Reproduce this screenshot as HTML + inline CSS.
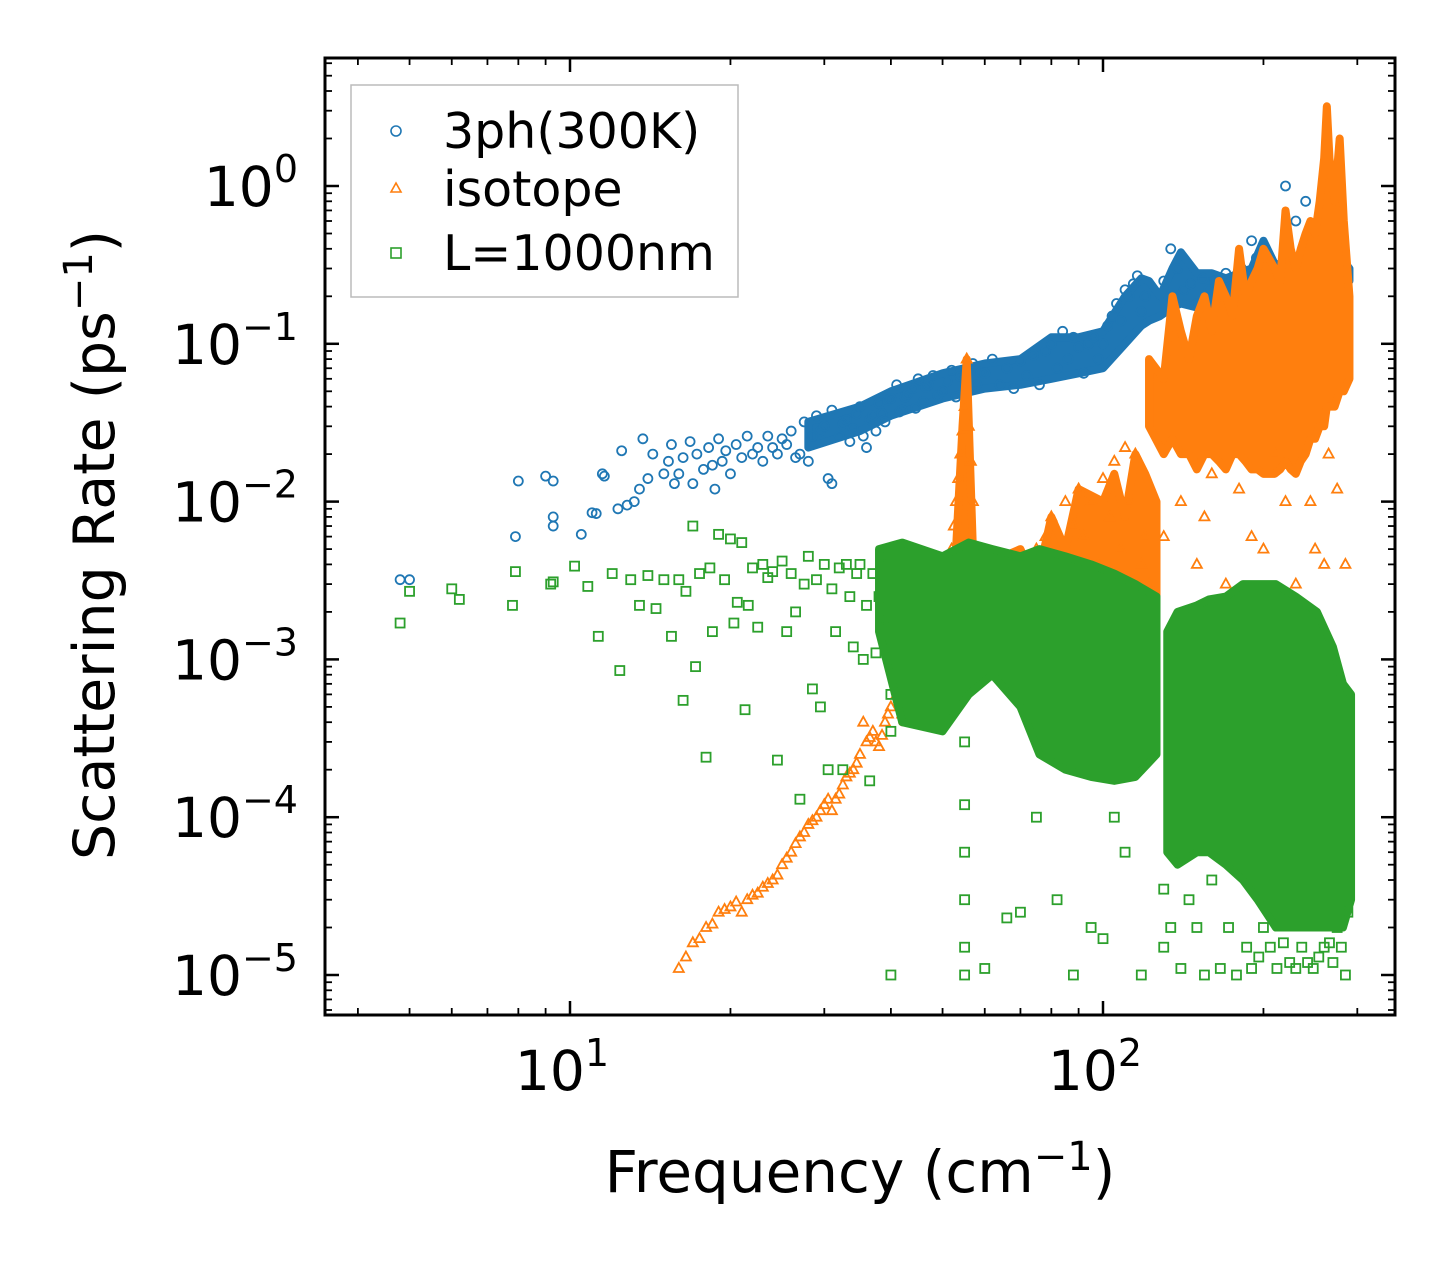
<!DOCTYPE html>
<html><head><meta charset="utf-8"><style>
html,body{margin:0;padding:0;background:#fff}
svg{display:block}
text{font-family:"DejaVu Sans","Liberation Sans",sans-serif;fill:#000}
</style></head><body>
<svg id="chart" width="1455" height="1265" viewBox="0 0 1455 1265" xmlns="http://www.w3.org/2000/svg">
<g id="marks"></g>
<g id="axes"></g>
<text x="860" y="1192" font-size="58" text-anchor="middle">Frequency (cm<tspan dy="-22" font-size="40">−1</tspan><tspan dy="22">)</tspan></text>
<text transform="translate(114,545) rotate(-90)" font-size="57" text-anchor="middle">Scattering Rate (ps<tspan dy="-22" font-size="40">−1</tspan><tspan dy="22">)</tspan></text>
<g>
<rect x="351" y="85" width="387" height="212" fill="#fff" stroke="#bbb" stroke-width="1.5"/>
<circle cx="396" cy="131" r="5" fill="none" stroke="#1f77b4" stroke-width="1.6"/>
<text x="443" y="148" font-size="49">3ph(300K)</text>
<polygon points="396,183 401,192 391,192" fill="none" stroke="#ff7f0e" stroke-width="1.6"/>
<text x="443" y="206" font-size="49">isotope</text>
<rect x="391" y="248" width="10" height="10" fill="none" stroke="#2ca02c" stroke-width="1.6"/>
<text x="443" y="270" font-size="49">L=1000nm</text>
</g>
</svg>
<script>
const xTickValues=[10,100];
const xTickLabels=["1","2"];
const yTickValues=[1,0.1,0.01,0.001,0.0001,0.00001];
const yTickLabels=["0","−1","−2","−3","−4","−5"];
// dense-cloud envelopes
const blueBandFreq=[28,35,40,50,60,70,80,90,100,110,118,122,128,135,140,150,160,170,180,190,200,210,220,230,240,250,258,262,270,280,290];
const blueBandLow=[2.2e-2,2.8e-2,3.5e-2,4.5e-2,5.2e-2,5.5e-2,6e-2,6.5e-2,7e-2,1e-1,1.3e-1,1.4e-1,1.5e-1,1.7e-1,1.8e-1,1.7e-1,1.7e-1,1.6e-1,1.5e-1,1.6e-1,1.8e-1,1.8e-1,1.8e-1,1.8e-1,1.8e-1,1.9e-1,2.2e-1,2.2e-1,2.5e-1,2.5e-1,2.5e-1];
const blueBandHigh=[3.2e-2,4e-2,5e-2,6.5e-2,7.5e-2,8e-2,1.1e-1,1.1e-1,1.2e-1,2e-1,2.6e-1,2.5e-1,2e-1,3e-1,3.8e-1,2.8e-1,2.8e-1,2.6e-1,2.8e-1,3e-1,4.5e-1,3.2e-1,3.2e-1,3.2e-1,3e-1,4e-1,1e0,6e-1,4e-1,3.5e-1,3e-1];
const orangeBandFreq=[122,130,135,140,145,150,155,160,165,170,175,180,185,190,195,200,210,215,220,225,230,235,240,245,250,255,260,263,266,272,278,283,290];
const orangeBandLow=[3e-2,2e-2,2.5e-2,2e-2,2e-2,1.6e-2,2e-2,2e-2,1.8e-2,1.6e-2,2e-2,2e-2,1.8e-2,1.6e-2,1.6e-2,1.5e-2,1.5e-2,1.6e-2,1.8e-2,1.6e-2,1.5e-2,1.8e-2,2e-2,2.5e-2,2.5e-2,3e-2,3e-2,4e-2,4e-2,4e-2,5e-2,5e-2,6e-2];
const orangeBandHigh=[8e-2,6e-2,2e-1,1.2e-1,8e-2,1.5e-1,2e-1,1.2e-1,2.5e-1,2e-1,1.5e-1,4e-1,2e-1,2.5e-1,3e-1,4e-1,3e-1,2.5e-1,7e-1,4e-1,3e-1,4e-1,5e-1,6e-1,5e-1,8e-1,1.5e0,3.2e0,1.5e0,8e-1,2e0,6e-1,2e-1];
const orange2BandFreq=[42,46,50,53,54.5,55.5,57,60,70,75,80,85,90,100,105,110,115,120,126];
const orange2BandLow=[4e-4,6e-4,1e-3,1.5e-3,1.5e-3,1.5e-3,1.5e-3,1.5e-3,1.5e-3,1.8e-3,2e-3,2e-3,2e-3,2e-3,2e-3,2e-3,2e-3,2e-3,2e-3];
const orange2BandHigh=[1e-3,2e-3,4e-3,5e-3,3e-2,8e-2,5e-3,4e-3,5e-3,3e-3,8e-3,5e-3,1.2e-2,1e-2,1.5e-2,8e-3,2e-2,1.5e-2,1e-2];
const green1BandFreq=[38,42,50,56,62,70,76,85,95,105,115,126];
const green1BandLow=[1.5e-3,4e-4,3.5e-4,6e-4,8e-4,5e-4,2.5e-4,2e-4,1.8e-4,1.7e-4,1.8e-4,2.5e-4];
const green1BandHigh=[5e-3,5.5e-3,4.5e-3,5.5e-3,5e-3,4.5e-3,5e-3,4.5e-3,4e-3,3.5e-3,3e-3,2.5e-3];
const green2BandFreq=[132,138,150,158,170,183,195,211,230,252,270,282,292];
const green2BandLow=[6e-5,5e-5,6e-5,6e-5,5e-5,4e-5,3e-5,2e-5,2e-5,2e-5,2e-5,2e-5,3e-5];
const green2BandHigh=[1.5e-3,2e-3,2.2e-3,2.4e-3,2.5e-3,3e-3,3e-3,3e-3,2.5e-3,2e-3,1.2e-3,7e-4,6e-4];
const threePhFreq=[4.8,5.0,7.9,8.0,9.0,9.3,9.3,9.3,10.5,11,11.2,11.5,11.6,12.3,12.5,12.8,13.2,13.5,13.7,14,14.3,15,15.3,15.5,15.7,16,16.3,16.8,17,17.3,17.8,18.2,18.5,18.7,19,19.3,19.6,20,20.5,21,21.5,22,22.5,23,23.5,24,24.5,25,25.5,26,26.5,27,27.5,28,28.5,29,29.5,30,30.5,31,31,32,32.5,33,33.5,34,34.5,35,35.5,36,36.5,37,37.5,38,38.5,39,39.5,40,41,41.5,42,42.5,43,44,44.5,45,46,46.5,47,48,49,50,51,52,53,54,55,56,57,58,59,60,62,64,66,68,70,72,74,76,78,80,82,84,86,88,90,92,94,96,98,100,102,104,106,108,110,112,114,116,118,120,130,134,138,142,146,150,154,158,162,166,170,174,178,182,186,190,194,198,202,206,210,220,230,240,248,260,262,266,270,276,282,288];
const threePhRate=[3.2e-3,3.2e-3,6e-3,1.35e-2,1.45e-2,1.35e-2,7e-3,8e-3,6.2e-3,8.5e-3,8.4e-3,1.5e-2,1.45e-2,9e-3,2.1e-2,9.5e-3,1e-2,1.2e-2,2.5e-2,1.4e-2,2e-2,1.5e-2,1.8e-2,2.3e-2,1.3e-2,1.5e-2,1.9e-2,2.4e-2,1.3e-2,2e-2,1.6e-2,2.2e-2,1.7e-2,1.2e-2,2.5e-2,1.8e-2,2.1e-2,1.5e-2,2.3e-2,1.9e-2,2.6e-2,2e-2,2.2e-2,1.8e-2,2.6e-2,2.2e-2,2e-2,2.5e-2,2.3e-2,2.8e-2,1.9e-2,2e-2,3.2e-2,1.8e-2,2.6e-2,3.5e-2,2.8e-2,3e-2,1.4e-2,1.3e-2,3.8e-2,2.6e-2,3.1e-2,3.3e-2,2.4e-2,2.9e-2,3.6e-2,4e-2,2.6e-2,2.2e-2,3.3e-2,3.5e-2,2.8e-2,4.2e-2,3.6e-2,3.2e-2,4.4e-2,4.5e-2,5.5e-2,3.7e-2,3.8e-2,4.6e-2,4.8e-2,5.2e-2,3.9e-2,6e-2,4.3e-2,5.3e-2,5.5e-2,6.3e-2,4.7e-2,5e-2,5.8e-2,6.8e-2,4.6e-2,6.2e-2,6e-2,5.2e-2,7.5e-2,5.5e-2,6.6e-2,6.5e-2,8e-2,5.5e-2,7e-2,5.2e-2,7.8e-2,6.3e-2,8.5e-2,5.5e-2,9e-2,1e-1,7e-2,1.2e-1,8e-2,1.1e-1,9.5e-2,6.5e-2,1e-1,1.1e-1,8e-2,1e-1,1.3e-1,1.5e-1,1.8e-1,1.4e-1,2.2e-1,2e-1,2.4e-1,2.7e-1,1.6e-1,2e-1,2.5e-1,4e-1,3e-1,2.2e-1,2.4e-1,1.8e-1,2.6e-1,2.2e-1,2.5e-1,1.5e-1,2.8e-1,2.3e-1,1.7e-1,3e-1,2.6e-1,4.5e-1,3.5e-1,2.2e-1,2.5e-1,3e-1,2.2e-1,1e0,6e-1,8e-1,3.5e-1,3e-1,2.8e-1,3.2e-1,3.3e-1];
const isoFreq=[16,16.5,17,17.5,18,18.5,19,19.5,20,20.5,21,21.5,22,22.5,23,23.5,24,24.5,25,25.5,26,26.5,27,27.5,28,28.5,29,29.5,30,30.5,31,31.5,32,32.5,33,33.5,34,34.5,35,35.5,36,36.5,37,37.5,38,38.5,39,39.5,40,41,42,43,44,45,46,47,48,49,50,50.5,51,51.5,52,52.5,53,53.5,54,54.5,55,55.5,56,56.5,57,58,60,62,64,66,68,70,72,74,75,78,80,82,85,88,90,92,95,98,100,103,105,108,110,112,115,118,120,122,130,150,170,200,230,260,140,160,180,210,245,265,155,190,220,250,285,275];
const isoRate=[1.1e-5,1.3e-5,1.6e-5,1.7e-5,2e-5,2.1e-5,2.5e-5,2.6e-5,2.7e-5,2.9e-5,2.5e-5,3e-5,3.2e-5,3.3e-5,3.6e-5,3.8e-5,4e-5,4.3e-5,5e-5,5.5e-5,6e-5,6.8e-5,7.5e-5,8e-5,9e-5,9.5e-5,1e-4,1.1e-4,1.2e-4,1.3e-4,1.1e-4,1.3e-4,1.4e-4,1.6e-4,1.8e-4,1.9e-4,2e-4,2.2e-4,2.5e-4,4e-4,3e-4,3.2e-4,3.5e-4,3e-4,2.8e-4,3.3e-4,4e-4,4.5e-4,5e-4,6e-4,4.5e-4,7e-4,8e-4,6e-4,1e-3,1.2e-3,9e-4,1.5e-3,2e-3,2.5e-3,3e-3,4e-3,5e-3,7e-3,1e-2,1.4e-2,2e-2,2.8e-2,4e-2,8e-2,3e-2,1.8e-2,1e-2,5e-3,3e-3,2e-3,1.5e-3,2.5e-3,3e-3,4e-3,2e-3,3.5e-3,5e-3,6e-3,8e-3,5e-3,1e-2,7e-3,1.2e-2,6e-3,1e-2,4e-3,1.4e-2,8e-3,1.8e-2,5e-3,2.2e-2,1e-2,2e-2,4e-3,6e-3,3e-3,6e-3,4e-3,3e-3,5e-3,3e-3,4e-3,1e-2,1.5e-2,1.2e-2,2e-2,1e-2,2e-2,8e-3,6e-3,1e-2,5e-3,4e-3,1.2e-2];
const greenFreq=[4.8,5.0,6.0,6.2,7.8,7.9,9.2,9.3,10.2,10.8,11.3,12,12.4,13,13.5,14,14.5,15,15.5,16,16.3,16.5,17,17.2,17.5,18,18.3,18.5,19,19.5,20,20.3,20.6,21,21.3,21.6,22,22.5,23,23.5,24,24.5,25,25.5,26,26.5,27,27.5,28,28.5,29,29.5,30,30.5,31,31.5,32,32.5,33,33.5,34,34.5,35,35.5,36,36.5,37,37.5,38,38.5,39,39.5,40,40,40,55,55,55,55,55,55,60,66,70,75,82,88,95,100,105,110,118,130,130,134,140,145,150,155,160,166,172,178,186,190,196,200,206,212,218,224,230,236,242,248,254,260,266,270,275,280,285,288];
const greenRate=[1.7e-3,2.7e-3,2.8e-3,2.4e-3,2.2e-3,3.6e-3,3e-3,3.1e-3,3.9e-3,2.9e-3,1.4e-3,3.5e-3,8.5e-4,3.2e-3,2.2e-3,3.4e-3,2.1e-3,3.2e-3,1.4e-3,3.2e-3,5.5e-4,2.7e-3,7e-3,9e-4,3.5e-3,2.4e-4,3.8e-3,1.5e-3,6.2e-3,3.2e-3,5.8e-3,1.7e-3,2.3e-3,5.5e-3,4.8e-4,2.2e-3,3.8e-3,1.6e-3,4e-3,3.3e-3,3.6e-3,2.3e-4,4.2e-3,1.5e-3,3.5e-3,2e-3,1.3e-4,3e-3,4.5e-3,6.5e-4,3.2e-3,5e-4,4e-3,2e-4,2.8e-3,1.5e-3,3.8e-3,2e-4,4e-3,2.5e-3,1.2e-3,3.5e-3,4e-3,1e-3,2.2e-3,1.7e-4,3.5e-3,1.1e-3,2.5e-3,4.5e-3,1.8e-3,1.2e-3,6e-4,3.5e-4,1e-5,1.2e-4,6e-5,3e-5,1.5e-5,1e-5,3e-4,1.1e-5,2.3e-5,2.5e-5,1e-4,3e-5,1e-5,2e-5,1.7e-5,1e-4,6e-5,1e-5,3.5e-5,1.5e-5,2e-5,1.1e-5,3e-5,2e-5,1e-5,4e-5,1.1e-5,2e-5,1e-5,1.5e-5,1.1e-5,1.3e-5,2e-5,1.5e-5,1.1e-5,1.6e-5,1.2e-5,1.1e-5,1.5e-5,1.2e-5,1.1e-5,1.3e-5,1.5e-5,1.6e-5,1.2e-5,2e-5,1.5e-5,1e-5,2.5e-5];
const X0=570, XD=533, Y0=186, YD=157.8;
function sx(v){return X0+(Math.log10(v)-1)*XD;}
function sy(v){return Y0-Math.log10(v)*YD;}
const NS="http://www.w3.org/2000/svg";
const marks=document.getElementById('marks');
const axes=document.getElementById('axes');
function mk(tag,attrs,parent){const e=document.createElementNS(NS,tag);for(const k in attrs)e.setAttribute(k,attrs[k]);parent.appendChild(e);return e;}
function band(fr,lo,hi,color,parent,name){
  const pts=[];fr.forEach((f,i)=>pts.push(sx(f)+','+sy(hi[i])));
  for(let i=fr.length-1;i>=0;i--)pts.push(sx(fr[i])+','+sy(lo[i]));
  const p=mk('polygon',{points:pts.join(' '),fill:color,stroke:color,'stroke-width':8,'stroke-linejoin':'round'},parent);
  
  
}
const gB=mk('g',{},marks);


const gO=mk('g',{},marks);


const gG=mk('g',{},marks);


band(blueBandFreq,blueBandLow,blueBandHigh,'#1f77b4',gB,'band-3ph');
band(orangeBandFreq,orangeBandLow,orangeBandHigh,'#ff7f0e',gO,'band-isotope');
band(orange2BandFreq,orange2BandLow,orange2BandHigh,'#ff7f0e',gO,'band-isotope-mid');
band(green1BandFreq,green1BandLow,green1BandHigh,'#2ca02c',gG,'band-l1000nm-low');
band(green2BandFreq,green2BandLow,green2BandHigh,'#2ca02c',gG,'band-l1000nm-high');
threePhFreq.forEach((f,i)=>{if(threePhRate[i]===undefined)return;const c=mk('circle',{cx:sx(f),cy:sy(threePhRate[i]),r:4.5,fill:'none',stroke:'#1f77b4','stroke-width':1.8},gB);

});
isoFreq.forEach((f,i)=>{if(isoRate[i]===undefined)return;const x=sx(f),y=sy(isoRate[i]);const p=mk('polygon',{points:`${x},${y-5.5} ${x+5},${y+3.5} ${x-5},${y+3.5}`,fill:'none',stroke:'#ff7f0e','stroke-width':1.8},gO);

});
greenFreq.forEach((f,i)=>{if(greenRate[i]===undefined)return;const x=sx(f),y=sy(greenRate[i]);const r=mk('rect',{x:x-4.5,y:y-4.5,width:9,height:9,fill:'none',stroke:'#2ca02c','stroke-width':1.8},gG);

});
const L=325,R=1395,T=58,B=1015;
const fr=mk('rect',{x:L,y:T,width:R-L,height:B-T,fill:'none',stroke:'#000','stroke-width':3},axes);


for(let d=0;d<=2;d++){for(let m=1;m<=9;m++){const v=m*Math.pow(10,d);const x=sx(v);if(x<L||x>R)continue;const len=m===1?14:7;const w=m===1?2.5:1.8;
mk('line',{x1:x,y1:B,x2:x,y2:B-len,stroke:'#000','stroke-width':w},axes);mk('line',{x1:x,y1:T,x2:x,y2:T+len,stroke:'#000','stroke-width':w},axes);}}
for(let d=-6;d<=0;d++){for(let m=1;m<=9;m++){const v=m*Math.pow(10,d);const y=sy(v);if(y<T||y>B)continue;const len=m===1?14:7;const w=m===1?2.5:1.8;
mk('line',{x1:L,y1:y,x2:L+len,y2:y,stroke:'#000','stroke-width':w},axes);mk('line',{x1:R,y1:y,x2:R-len,y2:y,stroke:'#000','stroke-width':w},axes);}}
xTickValues.forEach((v,i)=>{const t=mk('text',{x:sx(v)-8,y:1090,'font-size':55,'text-anchor':'middle'},axes);


t.innerHTML='10<tspan dy="-24" font-size="38">'+xTickLabels[i]+'</tspan>';});
yTickValues.forEach((v,i)=>{const t=mk('text',{x:298,y:sy(v)+20,'font-size':55,'text-anchor':'end'},axes);


t.innerHTML='10<tspan dy="-24" font-size="38">'+yTickLabels[i]+'</tspan>';});
</script>
</body></html>
